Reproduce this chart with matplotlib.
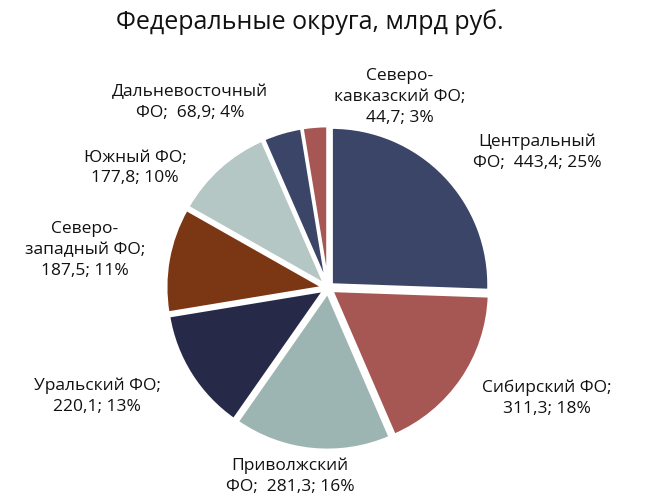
import matplotlib.pyplot as plt

# Federal districts, bln rub
names = ["Центральный\nФО;  ", "Сибирский ФО;\n", "Приволжский\nФО;  ",
         "Уральский ФО;\n", "Северо-\nзападный ФО;\n", "Южный ФО;\n",
         "Дальневосточный\nФО;  ", "Северо-\nкавказский ФО;\n"]
values = [443.4, 311.3, 281.3, 220.1, 187.5, 177.8, 68.9, 44.7]
shares = [25, 18, 16, 13, 11, 10, 4, 3]
colors = ["#3a4568", "#a65653", "#9db5b2", "#262a48", "#7b3614", "#b4c7c5",
          "#3a4568", "#a65653"]
# label centres in pixels (x, y from top)
label_pos = [(537, 152), (547, 398), (290, 476), (97, 396),
             (85, 250), (135, 168), (190, 103), (400, 97)]

W, H = 656, 504
plt.rcParams['font.family'] = ['Open Sans', 'DejaVu Sans']

fig = plt.figure(figsize=(W / 100, H / 100), dpi=100)
cx, cy, r = 328, 288, 162
ax = fig.add_axes([(cx - r) / W, (H - cy - r) / H, 2 * r / W, 2 * r / H])
ax.pie(values, colors=colors, startangle=90, counterclock=False,
       explode=[0.03] * len(values), radius=0.97,
       wedgeprops=dict(edgecolor="white", linewidth=2))
ax.set_aspect("equal")
ax.set_xlim(-1, 1)
ax.set_ylim(-1, 1)

for n, v, s, (px, py) in zip(names, values, shares, label_pos):
    txt = f"{n}{v:.1f}; {s}%".replace(".", ",")
    fig.text(px / W, 1 - py / H, txt, ha="center", va="center",
             fontsize=12.5, color="#111111", linespacing=1.4)

fig.text(310 / W, 1 - 22 / H, "Федеральные округа, млрд руб.",
         ha="center", va="center", fontsize=18, color="#111111")

fig.savefig("out.png", dpi=100)
